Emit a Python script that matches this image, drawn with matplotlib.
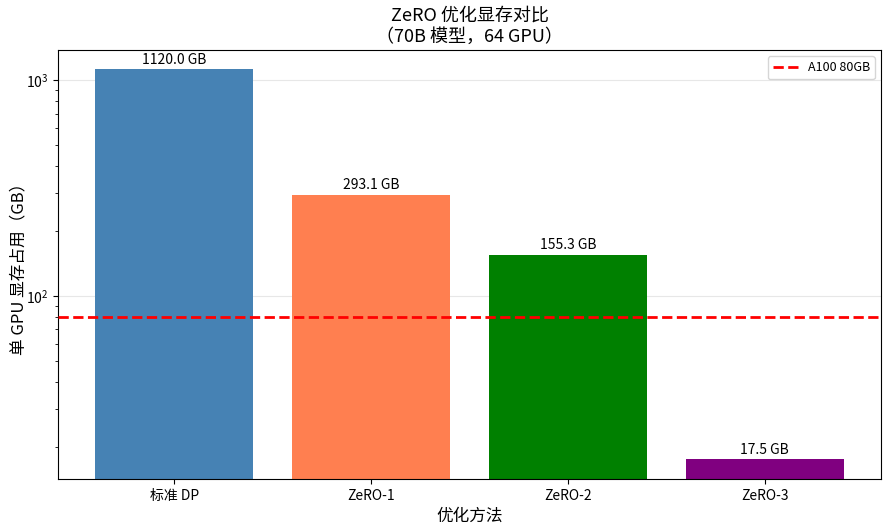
import matplotlib
matplotlib.use("Agg")
import matplotlib.pyplot as plt

plt.rcParams['font.family'] = ['Noto Sans CJK SC', 'DejaVu Sans']
plt.rcParams['axes.unicode_minus'] = False

methods = ['标准 DP', 'ZeRO-1', 'ZeRO-2', 'ZeRO-3']
memory_gb = [1120.0, 293.1, 155.3, 17.5]
colors = ['steelblue', 'coral', 'green', 'purple']
gpu_limit = 80

fig = plt.figure(figsize=(8.91, 5.31), dpi=100)
ax = fig.add_axes([58/891, 1-479/531, (881-58)/891, (479-50)/531])

bars = ax.bar(methods, memory_gb, color=colors, zorder=2)
ax.set_yscale('log')
ax.axhline(gpu_limit, color='red', linestyle='--', linewidth=2, label='A100 80GB', zorder=3)
for b, v in zip(bars, memory_gb):
    ax.text(b.get_x() + b.get_width()/2, v * 1.03, f'{v:.1f} GB',
            ha='center', va='bottom', fontsize=10)

ax.set_xlabel('优化方法', fontsize=12)
ax.set_ylabel('单 GPU 显存占用（GB）', fontsize=12, labelpad=-1)
ax.set_title('ZeRO 优化显存对比\n（70B 模型，64 GPU）', fontsize=13)
ax.legend(loc='upper right', fontsize=9)
ax.grid(axis='y', alpha=0.3)
ax.set_axisbelow(True)

fig.savefig('out.png', dpi=100)
